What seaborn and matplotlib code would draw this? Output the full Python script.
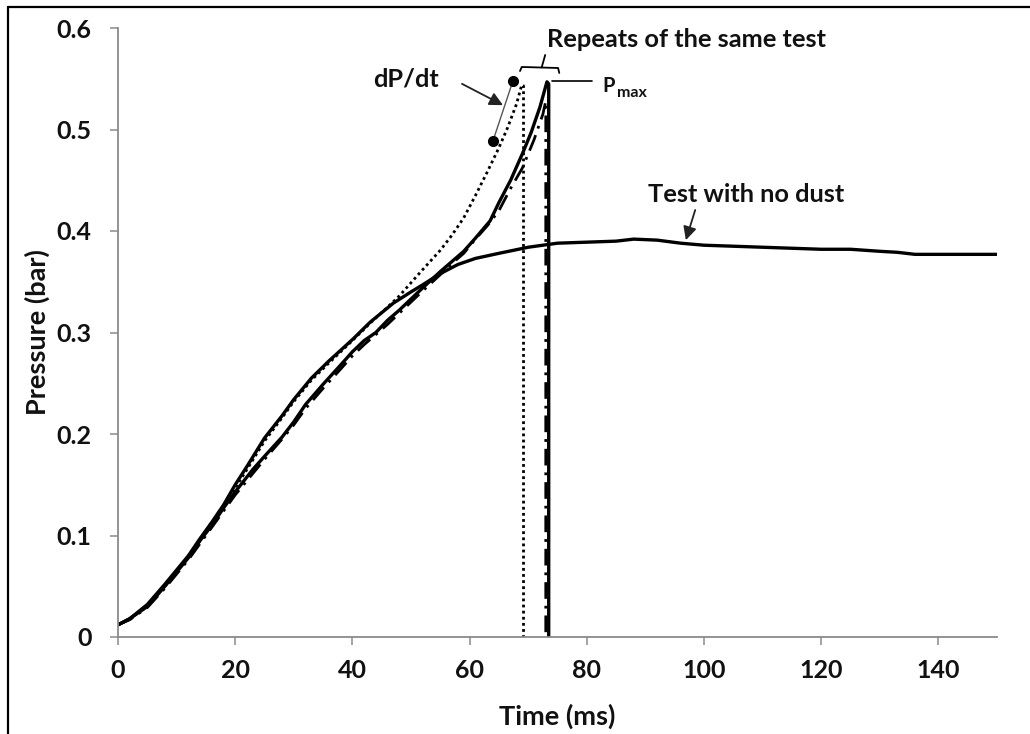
import numpy as np
import pandas as pd
import matplotlib
matplotlib.use("Agg")
import matplotlib.pyplot as plt
import seaborn as sns
from matplotlib.lines import Line2D

# ---------------- data ----------------
nodust_t = [0, 2, 5, 8, 10, 12, 14, 16, 18, 20, 22, 25, 28, 30, 33, 36, 40, 43, 47, 50,
            52, 55, 58, 61, 65, 70, 75, 80, 85, 88, 92, 96, 100, 105, 110, 115, 120, 125,
            130, 133, 136, 140, 145, 150]
nodust_p = [0.012, 0.018, 0.032, 0.052, 0.066, 0.080, 0.097, 0.113, 0.130, 0.150, 0.168,
            0.196, 0.218, 0.234, 0.255, 0.272, 0.293, 0.310, 0.329, 0.340, 0.347, 0.358,
            0.367, 0.373, 0.378, 0.384, 0.388, 0.389, 0.390, 0.392, 0.391, 0.388, 0.386,
            0.385, 0.384, 0.383, 0.382, 0.382, 0.380, 0.379, 0.377, 0.377, 0.377, 0.377]

solid_t = [0, 2, 5, 8, 10, 12, 14, 16, 18, 20, 23, 25, 28, 30, 32, 35, 38, 40, 42, 44, 46,
           48, 50, 52, 55, 57, 59, 61, 63.5, 65, 67, 69, 70.5, 72, 73.2, 73.5, 73.5]
solid_p = [0.012, 0.018, 0.030, 0.050, 0.064, 0.078, 0.095, 0.110, 0.127, 0.143, 0.165,
           0.178, 0.197, 0.212, 0.229, 0.249, 0.268, 0.281, 0.292, 0.300, 0.312, 0.322,
           0.333, 0.344, 0.360, 0.370, 0.380, 0.393, 0.410, 0.428, 0.450, 0.476, 0.497,
           0.522, 0.547, 0.545, 0.0]

dotted_t = [0, 2, 5, 8, 10, 12, 14, 16, 18, 20, 22, 25, 28, 30, 33, 36, 40, 43, 46, 48, 50,
            52, 55, 57, 59, 61, 63, 65, 66.5, 68, 68.9, 69.2, 69.2]
dotted_p = [0.012, 0.018, 0.031, 0.050, 0.064, 0.079, 0.095, 0.110, 0.128, 0.147, 0.165,
            0.193, 0.216, 0.232, 0.253, 0.270, 0.292, 0.309, 0.325, 0.336, 0.349, 0.362,
            0.381, 0.396, 0.413, 0.435, 0.458, 0.482, 0.502, 0.525, 0.544, 0.543, 0.0]

dashdot_t = [0, 2, 5, 8, 10, 12, 14, 16, 18, 20, 23, 25, 28, 30, 32, 35, 38, 40, 42, 44, 46,
             48, 50, 52, 55, 57, 59, 61, 63, 65, 67, 69, 71, 72.5, 73.0, 73.0]
dashdot_p = [0.012, 0.017, 0.029, 0.048, 0.062, 0.076, 0.092, 0.108, 0.124, 0.140, 0.161,
             0.175, 0.195, 0.209, 0.225, 0.245, 0.264, 0.277, 0.288, 0.298, 0.308, 0.319,
             0.330, 0.341, 0.357, 0.368, 0.378, 0.392, 0.405, 0.420, 0.442, 0.462, 0.490,
             0.515, 0.528, 0.0]

x_ticks = [0, 20, 40, 60, 80, 100, 120, 140]
x_tick_labels = ["0", "20", "40", "60", "80", "100", "120", "140"]
y_ticks = [0, 0.1, 0.2, 0.3, 0.4, 0.5, 0.6]
y_tick_labels = ["0", "0.1", "0.2", "0.3", "0.4", "0.5", "0.6"]

# ---------------- style ----------------
sns.set_theme(style="white")
plt.rcParams['font.family'] = ['Lato', 'DejaVu Sans']
plt.rcParams['font.weight'] = 'bold'

W, H = 1030, 734
fig = plt.figure(figsize=(W / 100, H / 100), dpi=100)
fig.patch.set_facecolor('white')
L, R, T, B = 118, 997, 28, 637
ax = fig.add_axes([L / W, 1 - B / H, (R - L) / W, (B - T) / H])
ax.set_facecolor('white')

# ---------------- series ----------------
sns.lineplot(x=nodust_t, y=nodust_p, ax=ax, color='black', lw=2.4,
             estimator=None, sort=False)
sns.lineplot(x=dotted_t, y=dotted_p, ax=ax, color='black', lw=2.0,
             linestyle=(0, (1, 1.2)), estimator=None, sort=False)
sns.lineplot(x=dashdot_t, y=dashdot_p, ax=ax, color='black', lw=2.0,
             linestyle=(0, (6, 2.5, 1, 2.5)), estimator=None, sort=False)
sns.lineplot(x=solid_t, y=solid_p, ax=ax, color='black', lw=2.4,
             estimator=None, sort=False)

# ---------------- axes ----------------
ax.set_xlim(0, 150)
ax.set_ylim(0, 0.6)
ax.set_xticks(x_ticks)
ax.set_xticklabels(x_tick_labels)
ax.set_yticks(y_ticks)
ax.set_yticklabels(y_tick_labels)
gray = '#8a8a8a'
for s in ['top', 'right']:
    ax.spines[s].set_visible(False)
for s in ['left', 'bottom']:
    ax.spines[s].set_color(gray)
    ax.spines[s].set_linewidth(1.3)
ax.tick_params(axis='both', direction='out', length=5.5, width=1.1, color=gray,
               labelsize=18, labelcolor='#111111')
ax.tick_params(axis='y', pad=13.5, left=True)
ax.tick_params(axis='x', pad=10.5, bottom=True)
for lab in ax.get_xticklabels() + ax.get_yticklabels():
    lab.set_fontweight('bold')

ax.set_xlabel('Time (ms)', fontsize=19.5, fontweight='bold', color='#111111')
ax.set_ylabel('Pressure (bar)', fontsize=19.5, fontweight='bold', color='#111111')
ax.xaxis.label.set_va('center')
ax.yaxis.label.set_va('center')
ax.xaxis.set_label_coords(0.5, (B - 716) / (B - T))
ax.yaxis.set_label_coords((37 - L) / (R - L), 0.5)

# ---------------- annotations ----------------
txt = dict(fontsize=18.3, fontweight='bold', color='#111111')
ax.text(73.2, 0.581, 'Repeats of the same test', ha='left', va='baseline', **txt)
ax.text(43.5, 0.542, 'dP/dt', ha='left', va='baseline', **txt)
ax.text(90.4, 0.4286, 'Test with no dust', ha='left', va='baseline', **txt)
ax.text(82.6, 0.537, 'P', ha='left', va='baseline', fontsize=14.5, fontweight='bold',
        color='#111111')
ax.text(85.2, 0.532, 'max', ha='left', va='baseline', fontsize=11.5, fontweight='bold',
        color='#111111')

# bracket over the repeats
ax.plot([68.6, 68.9, 75.1, 75.3], [0.5576, 0.5616, 0.5606, 0.5557], color='black', lw=1.3)
ax.plot([72.3, 72.9], [0.5612, 0.5734], color='black', lw=1.3)
# Pmax leader
ax.plot([74.1, 80.9], [0.5478, 0.5478], color='black', lw=1.2)
# dP/dt tangent
ax.plot([67.4, 64.0], [0.548, 0.489], color='#555555', lw=1.0, marker='o', ms=7,
        mfc='black', mec='black')
# arrows
ax.annotate('', xy=(65.7, 0.524), xytext=(58.7, 0.545),
            arrowprops=dict(arrowstyle='-|>', color='#222222', lw=1.3, mutation_scale=20,
                            shrinkA=0, shrinkB=0))
ax.annotate('', xy=(96.9, 0.391), xytext=(98.5, 0.4207),
            arrowprops=dict(arrowstyle='-|>', color='#222222', lw=1.3, mutation_scale=20,
                            shrinkA=0, shrinkB=0))

# figure frame (left and top edges visible in the reference)
fig.add_artist(Line2D([8 / W, 8 / W], [0, 1 - 7 / H], transform=fig.transFigure,
                      color='black', lw=1.6))
fig.add_artist(Line2D([8 / W, 1], [1 - 7 / H, 1 - 7 / H], transform=fig.transFigure,
                      color='black', lw=1.6))

fig.savefig('out.png', dpi=100, facecolor='white')
